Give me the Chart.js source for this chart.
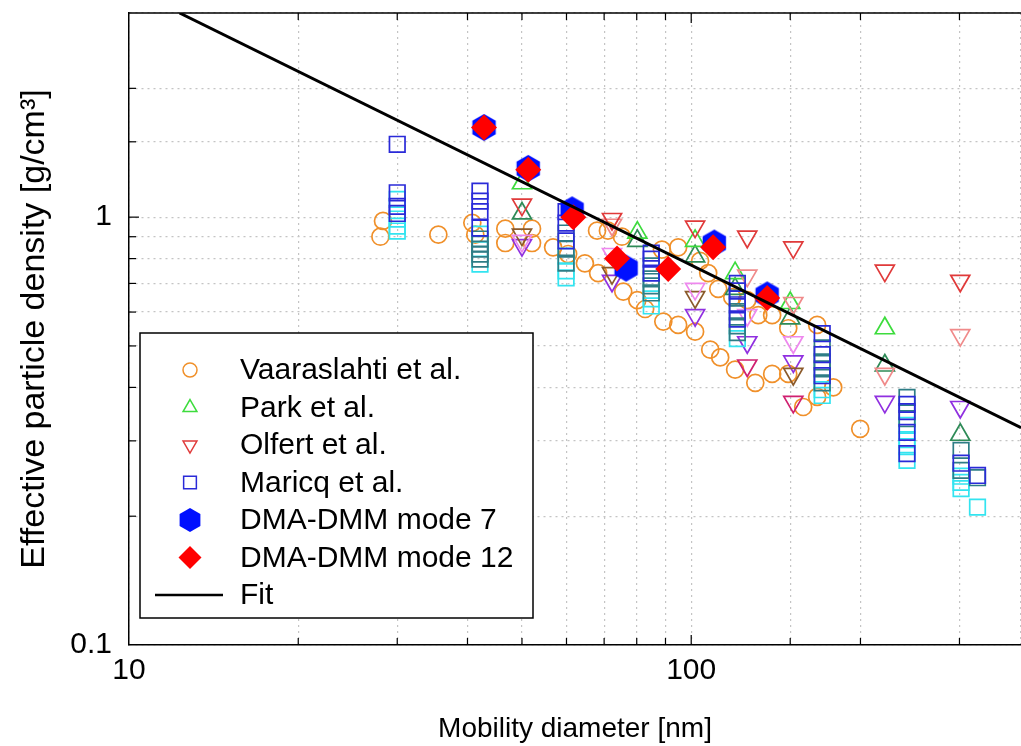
<!DOCTYPE html>
<html>
<head>
<meta charset="utf-8">
<script src="https://cdn.jsdelivr.net/npm/chart.js@4"></script>
<style>
  html, body { margin: 0; padding: 0; background: #fff; overflow: hidden; }
  #wrap { width: 1021px; height: 746px; overflow: hidden; }
</style>
</head>
<body>
<div id="wrap"><canvas id="grafico" width="1034" height="746"></canvas></div>
<script>
// valores: [diâmetro de mobilidade nm, densidade efetiva g/cm3]
const vaaraslahti = [
  [28.3, 0.98], [28.0, 0.90], [35.5, 0.91], [40.8, 0.97], [41.3, 0.91], [46.7, 0.94], [46.7, 0.87],
  [52.1, 0.94], [52.1, 0.87], [56.8, 0.85], [68.0, 0.93], [71.1, 0.93], [75.3, 0.90], [88.7, 0.84],
  [94.8, 0.85], [103.7, 0.79], [107.2, 0.74], [111.7, 0.68], [118.3, 0.65], [125.8, 0.64], [131.6, 0.59],
  [139.3, 0.59], [148.8, 0.55], [167.5, 0.56],
  [60.4, 0.82], [64.7, 0.78], [68.3, 0.74], [75.7, 0.67], [80.2, 0.64], [82.8, 0.61], [89.2, 0.57],
  [94.8, 0.56], [101.6, 0.54], [108.1, 0.49], [112.6, 0.47], [119.7, 0.44], [130.0, 0.41], [139.3, 0.43],
  [148.8, 0.43], [158.2, 0.36], [167.5, 0.38], [178.9, 0.40], [199.8, 0.32]
];

const parkVerde = [[50, 1.20], [80.2, 0.92], [101.6, 0.88], [119.7, 0.74], [150, 0.63], [221, 0.55]];
const parkEscuro = [[50, 1.02], [80.2, 0.88], [101.6, 0.81], [119.7, 0.68], [150, 0.58], [221, 0.45], [301, 0.31]];

const olfertVermelho = [[50, 1.07], [72.3, 0.99], [101.6, 0.95], [125.8, 0.90], [151.9, 0.85], [221, 0.75], [301, 0.71]];
const olfertSalmao = [[72.3, 0.96], [125.8, 0.73], [151.9, 0.63], [221, 0.43], [301, 0.53]];
const olfertRosa = [[50, 0.88], [72.3, 0.82], [101.6, 0.68], [125.8, 0.59], [151.9, 0.51]];
const olfertCastanho = [[50, 0.91], [72.3, 0.74], [101.6, 0.65], [151.9, 0.43]];
const olfertRoxo = [[50, 0.86], [72.3, 0.71], [101.6, 0.59], [125.8, 0.51], [151.9, 0.46], [221, 0.37], [301, 0.36]];
const olfertCarmim = [[125.8, 0.45], [151.9, 0.37]];

const maricqAzul = [
  [30, 1.48], [30, 1.14], [30, 1.06], [30, 1.02],
  [42.1, 1.15], [42.1, 1.09], [42.1, 1.03], [42.1, 0.943],
  [59.9, 1.03], [59.9, 0.968], [59.9, 0.88],
  [84.9, 0.824], [84.9, 0.798], [84.9, 0.74],
  [120.8, 0.70], [120.8, 0.672], [120.8, 0.624], [120.8, 0.578],
  [171, 0.534], [171, 0.477], [171, 0.426],
  [242, 0.365], [242, 0.351], [242, 0.314], [242, 0.28],
  [302, 0.266], [323, 0.249]
];
const maricqPetroleo = [
  [42.1, 0.889], [42.1, 0.865], [42.1, 0.842], [42.1, 0.82], [42.1, 0.798],
  [59.9, 0.918], [59.9, 0.842], [59.9, 0.781],
  [84.9, 0.769], [84.9, 0.717], [84.9, 0.691], [84.9, 0.665],
  [120.8, 0.647], [120.8, 0.601], [120.8, 0.557], [120.8, 0.537],
  [171, 0.495], [171, 0.459], [171, 0.442], [171, 0.41],
  [242, 0.379], [242, 0.338],
  [302, 0.285], [302, 0.256], [323, 0.246]
];
const maricqCiano = [
  [30, 1.10], [30, 0.99], [30, 0.953], [30, 0.928],
  [42.1, 0.913], [42.1, 0.777],
  [59.9, 0.811], [59.9, 0.749], [59.9, 0.721],
  [84.9, 0.644], [84.9, 0.62],
  [120.8, 0.52],
  [171, 0.395], [171, 0.383],
  [242, 0.326], [242, 0.302], [242, 0.291], [242, 0.27],
  [302, 0.248], [302, 0.24], [302, 0.232], [323, 0.21]
];

const modo7 = [[42.8, 1.62], [51.3, 1.30], [61.4, 1.04], [76.6, 0.76], [109.9, 0.87], [136.5, 0.658]];
const modo12 = [[42.8, 1.62], [51.3, 1.29], [61.7, 1.00], [73.8, 0.80], [91.0, 0.756], [109.4, 0.85], [136.5, 0.647]];

const ajuste = [[12.3, 3.0], [386, 0.322]];

const xMin = 10, xMax = 386;
const yMin = 0.1, yMax = 3;

const fonte = '"Liberation Sans", Arial, Helvetica, sans-serif';
Chart.defaults.font.family = fonte;
Chart.defaults.color = '#000';

function hexagono(r, cor) {
  const c = document.createElement('canvas');
  c.width = c.height = Math.ceil(2 * r + 2);
  const g = c.getContext('2d');
  g.beginPath();
  for (let i = 0; i < 6; i++) {
    const a = Math.PI / 3 * i - Math.PI / 2;
    const px = c.width / 2 + r * Math.cos(a);
    const py = c.height / 2 + r * Math.sin(a);
    if (i === 0) g.moveTo(px, py); else g.lineTo(px, py);
  }
  g.closePath();
  g.fillStyle = cor;
  g.fill();
  return c;
}

function serie(label, pts, cor, estilo, extra) {
  return Object.assign({
    label,
    data: pts.map(p => ({ x: p[0], y: p[1] })),
    pointStyle: estilo,
    pointBorderColor: cor,
    pointBackgroundColor: 'rgba(0,0,0,0)',
    pointBorderWidth: 1.7,
    pointRadius: 8.5
  }, extra || {});
}

const laranja = '#f0902a';
const tri = { pointRadius: 11 };
const triBaixo = { pointRadius: 11, pointRotation: 180 };
const quad = { pointRadius: 11 };

const datasets = [
  { label: 'Fit', data: ajuste.map(p => ({ x: p[0], y: p[1] })), showLine: true,
    borderColor: '#000', borderWidth: 3, pointRadius: 0, order: 0 },
  serie('DMA-DMM mode 12', modo12, '#ff0000', 'rectRot',
    { pointRadius: 13, pointBackgroundColor: '#ff0000', pointBorderWidth: 0, order: 1 }),
  serie('DMA-DMM mode 7', modo7, '#0000ff', hexagono(13.5, '#0010ff'),
    { pointBorderWidth: 0, order: 2 }),
  serie('Maricq et al.', maricqAzul, '#2a2ad8', 'rect', Object.assign({ order: 3 }, quad)),
  serie('Maricq et al.', maricqPetroleo, '#2e7d86', 'rect', Object.assign({ order: 4 }, quad)),
  serie('Maricq et al.', maricqCiano, '#33e4f0', 'rect', Object.assign({ order: 5 }, quad)),
  serie('Olfert et al.', olfertVermelho, '#e03a3a', 'triangle', Object.assign({ order: 6 }, triBaixo)),
  serie('Olfert et al.', olfertSalmao, '#f08a8a', 'triangle', Object.assign({ order: 6 }, triBaixo)),
  serie('Olfert et al.', olfertRosa, '#ee88ee', 'triangle', Object.assign({ order: 6 }, triBaixo)),
  serie('Olfert et al.', olfertCastanho, '#8b5a2b', 'triangle', Object.assign({ order: 6 }, triBaixo)),
  serie('Olfert et al.', olfertRoxo, '#9030e0', 'triangle', Object.assign({ order: 6 }, triBaixo)),
  serie('Olfert et al.', olfertCarmim, '#d02070', 'triangle', Object.assign({ order: 6 }, triBaixo)),
  serie('Park et al.', parkVerde, '#3ddc3d', 'triangle', Object.assign({ order: 7 }, tri)),
  serie('Park et al.', parkEscuro, '#2e8b57', 'triangle', Object.assign({ order: 7 }, tri)),
  serie('Vaaraslahti et al.', vaaraslahti, laranja, 'circle', { order: 8 })
];

// entradas da legenda (desenhada dentro da área do gráfico)
const legenda = [
  { texto: 'Vaaraslahti et al.', estilo: 'circle', cor: laranja, r: 7 },
  { texto: 'Park et al.', estilo: 'triangle', cor: '#3ddc3d', r: 8 },
  { texto: 'Olfert et al.', estilo: 'triangle', cor: '#e03a3a', r: 8, rot: 180 },
  { texto: 'Maricq et al.', estilo: 'rect', cor: '#2a2ad8', r: 9 },
  { texto: 'DMA-DMM mode 7', estilo: hexagono(12, '#0010ff'), cor: '#0010ff', r: 12, cheio: true },
  { texto: 'DMA-DMM mode 12', estilo: 'rectRot', cor: '#ff0000', r: 11.5, cheio: true },
  { texto: 'Fit', linha: true }
];

const moldura = {
  id: 'moldura',
  afterDatasetsDraw(chart) {
    const { ctx, chartArea: a, scales } = chart;
    ctx.save();
    ctx.strokeStyle = '#000';
    ctx.lineWidth = 1.5;
    // borda superior
    ctx.beginPath();
    ctx.moveTo(a.left, a.top);
    ctx.lineTo(a.right + 2, a.top);
    ctx.stroke();
    // marcas internas
    ctx.lineWidth = 1.2;
    scales.x.ticks.forEach(t => {
      const px = scales.x.getPixelForValue(t.value);
      if (px <= a.left + 1 || px >= a.right - 1) return;
      const len = Number.isInteger(Math.log10(t.value)) ? 10 : 7;
      ctx.beginPath();
      ctx.moveTo(px, a.bottom); ctx.lineTo(px, a.bottom - len);
      ctx.moveTo(px, a.top); ctx.lineTo(px, a.top + len);
      ctx.stroke();
    });
    scales.y.ticks.forEach(t => {
      const py = scales.y.getPixelForValue(t.value);
      if (py <= a.top + 1 || py >= a.bottom - 1) return;
      const len = Math.abs(Math.log10(t.value) - Math.round(Math.log10(t.value))) < 1e-9 ? 10 : 7;
      ctx.beginPath();
      ctx.moveTo(a.left, py); ctx.lineTo(a.left + len, py);
      ctx.stroke();
    });

    // legenda
    const bx = 140, by = 333, bw = 393, bh = 285;
    ctx.fillStyle = '#fff';
    ctx.fillRect(bx, by, bw, bh);
    ctx.lineWidth = 1.5;
    ctx.strokeStyle = '#000';
    ctx.strokeRect(bx, by, bw, bh);
    ctx.font = '30px ' + fonte;
    ctx.textBaseline = 'middle';
    ctx.textAlign = 'left';
    legenda.forEach((e, i) => {
      const y = 370 + i * 37.5;
      if (e.linha) {
        ctx.strokeStyle = '#000';
        ctx.lineWidth = 2.5;
        ctx.beginPath();
        ctx.moveTo(155, y); ctx.lineTo(223, y);
        ctx.stroke();
      } else {
        ctx.strokeStyle = e.cor;
        ctx.fillStyle = e.cheio ? e.cor : 'rgba(0,0,0,0)';
        ctx.lineWidth = 1.5;
        Chart.helpers.drawPoint(ctx, {
          pointStyle: e.estilo, radius: e.r, rotation: e.rot || 0,
          borderWidth: e.cheio ? 0 : 1.5
        }, 190, y);
      }
      ctx.fillStyle = '#000';
      ctx.fillText(e.texto, 240, y + 1);
    });
    ctx.restore();
  }
};

const grade = { color: '#c4c4c4', lineWidth: 1.2, drawTicks: false };

new Chart(document.getElementById('grafico'), {
  type: 'scatter',
  data: { datasets },
  options: {
    responsive: false,
    devicePixelRatio: 1,
    animation: false,
    events: [],
    layout: { padding: { top: 13, left: 0, right: 0, bottom: 0 } },
    plugins: { legend: { display: false }, tooltip: { enabled: false } },
    scales: {
      x: {
        type: 'logarithmic',
        min: xMin, max: xMax,
        grid: grade,
        border: { display: true, color: '#000', width: 1.5, dash: [2, 4] },
        ticks: {
          autoSkip: false, maxRotation: 0, padding: 8,
          font: { size: 30 },
          callback: v => (v === 10 ? '10' : v === 100 ? '100' : '')
        },
        title: { display: true, text: 'Mobility diameter [nm]', font: { size: 28 }, padding: { top: 0, bottom: 0 } },
        afterFit: s => { s.height = 101; s.paddingLeft = 0; s.paddingRight = 0; }
      },
      y: {
        type: 'logarithmic',
        min: yMin, max: yMax,
        grid: grade,
        border: { display: true, color: '#000', width: 1.5, dash: [2, 4] },
        ticks: {
          autoSkip: false, padding: 17,
          font: { size: 30 },
          callback: v => (Math.abs(v - 1) < 1e-9 ? '1' : Math.abs(v - 0.1) < 1e-9 ? '0.1' : '')
        },
        title: { display: true, text: 'Effective particle density [g/cm³]', font: { size: 34 }, padding: { top: 14, bottom: 0 } },
        afterFit: s => { s.width = 129; s.paddingTop = 0; s.paddingBottom = 0; }
      }
    }
  },
  plugins: [moldura]
});
</script>
</body>
</html>
